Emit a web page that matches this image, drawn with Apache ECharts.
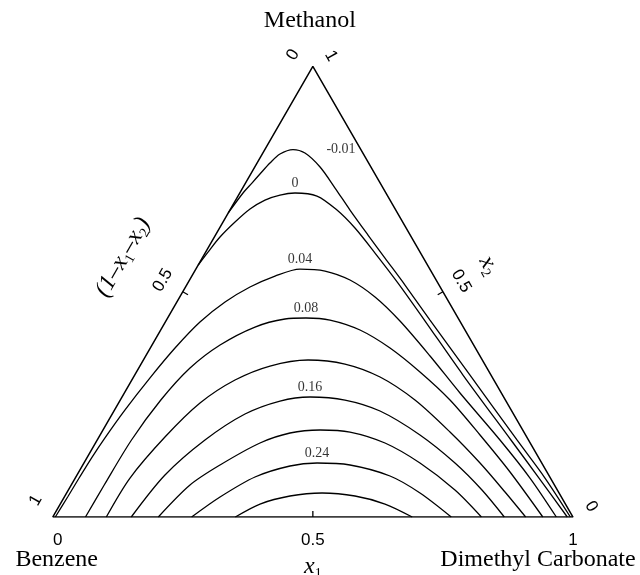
<!DOCTYPE html>
<html>
<head>
<meta charset="utf-8">
<script src="https://cdn.jsdelivr.net/npm/echarts@6/dist/echarts.min.js"></script>
<style>
  html, body { margin: 0; padding: 0; background: #fff; }
  #chart { width: 640px; height: 575px; }
</style>
</head>
<body>
<div id="chart"></div>
<script>
// Ternary contour diagram: x1 = dimethyl carbonate, x2 = methanol, benzene = 1 - x1 - x2.
// Every contour path is a list of [x1, x2] mole-fraction pairs.

const cornerNames = ['Benzene', 'Dimethyl Carbonate', 'Methanol'];
const tickValues = [0, 0.5, 1];
const tickLabels = ['0', '0.5', '1'];
const contourLevels = [-0.01, 0, 0.04, 0.08, 0.12, 0.16, 0.20, 0.24, 0.28];
const labelledLevels = [-0.01, 0, 0.04, 0.08, 0.16, 0.24];

const levelNeg001 = [[0.000,0.6747],[0.0063,0.7190],[0.0124,0.7411],[0.0178,0.7611],[0.0248,0.7855],[0.0341,0.8055],[0.0541,0.8155],[0.0810,0.8077],[0.1255,0.7767],[0.1776,0.7301],[0.2308,0.6812],[0.2931,0.6258],[0.3513,0.5747],[0.4197,0.5148],[0.5066,0.4371],[0.6445,0.3151],[0.8069,0.1709],[0.9029,0.0865],[0.995,0]];
const level000 = [[0.000,0.5592],[0.0045,0.5880],[0.0109,0.6213],[0.0231,0.6546],[0.0375,0.6835],[0.0563,0.7034],[0.0796,0.7145],[0.1062,0.7190],[0.1518,0.7123],[0.2058,0.6812],[0.2603,0.6413],[0.3266,0.5858],[0.4041,0.5192],[0.4909,0.4416],[0.6310,0.3151],[0.7953,0.1709],[0.8914,0.0865],[0.989,0]];
const level004 = [[0.005,0],[0.0065,0.0444],[0.0075,0.0888],[0.0092,0.1331],[0.0125,0.1753],[0.0200,0.2374],[0.0325,0.3084],[0.0476,0.3750],[0.0667,0.4327],[0.0927,0.4771],[0.1240,0.5104],[0.1599,0.5348],[0.2001,0.5503],[0.2505,0.5459],[0.3084,0.5259],[0.3754,0.4882],[0.4500,0.4349],[0.5466,0.3573],[0.6452,0.2752],[0.7742,0.1709],[0.8741,0.0865],[0.968,0]];
const level008 = [[0.063,0],[0.0635,0.0710],[0.0660,0.1709],[0.0780,0.2596],[0.0986,0.3306],[0.1308,0.3817],[0.1780,0.4216],[0.2268,0.4394],[0.2660,0.4416],[0.3144,0.4371],[0.3831,0.4150],[0.4608,0.3750],[0.5450,0.3218],[0.6338,0.2596],[0.7303,0.1820],[0.8290,0.0999],[0.942,0]];
const level012 = [[0.103,0],[0.1053,0.0865],[0.1270,0.1775],[0.1566,0.2530],[0.1984,0.3040],[0.2501,0.3351],[0.3165,0.3484],[0.3920,0.3395],[0.4738,0.3107],[0.5665,0.2596],[0.6693,0.1886],[0.7614,0.1198],[0.8416,0.0555],[0.909,0]];
const level016 = [[0.151,0],[0.1692,0.0932],[0.2072,0.1709],[0.2553,0.2286],[0.3082,0.2574],[0.3614,0.2663],[0.4320,0.2596],[0.5115,0.2352],[0.6149,0.1820],[0.7133,0.1198],[0.7951,0.0599],[0.868,0]];
const level020 = [[0.203,0],[0.2284,0.0710],[0.2639,0.1154],[0.3163,0.1642],[0.3629,0.1864],[0.4173,0.1931],[0.4771,0.1886],[0.5566,0.1642],[0.6460,0.1198],[0.7432,0.0599],[0.824,0]];
const level024 = [[0.267,0],[0.2994,0.0444],[0.3444,0.0888],[0.3995,0.1132],[0.4481,0.1198],[0.5137,0.1154],[0.6028,0.0910],[0.6793,0.0533],[0.766,0]];
const level028 = [[0.351,0],[0.3840,0.0288],[0.4328,0.0466],[0.4910,0.0533],[0.5577,0.0466],[0.6243,0.0288],[0.691,0]];

const contourPaths = [levelNeg001, level000, level004, level008, level012, level016, level020, level024, level028];

// corners of the composition triangle as [x1, x2]
const triangleCorners = [[0, 0], [1, 0], [0, 1], [0, 0]];

const H = Math.sqrt(3) / 2;
// composition -> cartesian position inside an equilateral triangle of side 1
const toXY = p => [p[0] + p[1] / 2, p[1] * H];

const INK = '#000';
const SERIF = '"Liberation Serif", "Times New Roman", serif';
const SANS = '"Liberation Sans", Arial, sans-serif';

const chart = echarts.init(document.getElementById('chart'), null, { renderer: 'canvas' });

const series = [];
series.push({
  type: 'line', data: triangleCorners.map(toXY), symbol: 'none', silent: true,
  lineStyle: { color: INK, width: 1.5 }, z: 3
});
contourPaths.forEach((pts, i) => {
  series.push({
    type: 'line', name: String(contourLevels[i]), data: pts.map(toXY),
    symbol: 'none', smooth: 0.3, silent: true,
    lineStyle: { color: INK, width: 1.3 }, z: 2
  });
});
// level labels sit above the crest of their contour
series.push({
  type: 'scatter', symbolSize: 1, silent: true, z: 4,
  itemStyle: { color: 'rgba(0,0,0,0)' },
  data: labelledLevels.map(lv => {
    const pts = contourPaths[contourLevels.indexOf(lv)];
    const crest = pts.reduce((a, b) => (b[1] > a[1] ? b : a));
    return {
      value: toXY(crest), name: String(lv),
      label: { offset: lv < 0 ? [48, 0] : [0, -10] }
    };
  }),
  label: {
    show: true, position: 'inside', formatter: p => p.name,
    fontFamily: SERIF, fontSize: 14, color: INK
  }
});

chart.setOption({
  animation: false,
  backgroundColor: '#fff',
  grid: { left: 52.7, top: 66.4, width: 520.3, height: 450.6, containLabel: false },
  xAxis: { type: 'value', min: 0, max: 1, show: false },
  yAxis: { type: 'value', min: 0, max: H, show: false },
  series
});

// ---- ticks, tick labels, axis titles and corner names ----
const px = p => chart.convertToPixel({ gridIndex: 0 }, toXY(p));
const add = (a, v, k) => [a[0] + v[0] * k, a[1] + v[1] * k];
const nLeft = [-Math.sqrt(3) / 2, -0.5];   // outward normal, left edge
const nRight = [Math.sqrt(3) / 2, -0.5];   // outward normal, right edge
const uLeft = [0.5, -Math.sqrt(3) / 2];    // along the left edge, upward
const nBottom = [0, 1];
const graphics = [];

function tick(p, n) {
  const a = px(p);
  const b = add(a, n, -6);
  graphics.push({ type: 'line', shape: { x1: a[0], y1: a[1], x2: b[0], y2: b[1] }, style: { stroke: INK, lineWidth: 1.3 }, z: 10 });
}
tick([0.5, 0], nBottom);
tick([0, 0.5], nLeft);
tick([0.5, 0.5], nRight);

function text(str, pos, rot, style) {
  graphics.push({
    type: 'text', x: pos[0], y: pos[1], rotation: rot || 0, z: 10,
    style: Object.assign({ text: str, fill: INK, align: 'center', verticalAlign: 'middle' }, style)
  });
}
const tickFont = { font: '17px ' + SANS };
tickValues.forEach((t, i) => {
  // bottom axis: x1
  text(tickLabels[i], add(add(px([t, 0]), nBottom, 23), [t === 0 ? 5 : 0, 0], 1), 0, tickFont);
  // left axis: 1 - x1 - x2
  text(tickLabels[i], add(add(px([0, 1 - t]), nLeft, 23), uLeft, t === 1 ? 6 : 0), Math.PI / 3, tickFont);
  // right axis: x2
  text(tickLabels[i], add(px([1 - t, t]), nRight, 21), -Math.PI / 3, tickFont);
});

const rich = {
  i: { fontFamily: SERIF, fontStyle: 'italic', fontSize: 24, lineHeight: 28, verticalAlign: 'middle' },
  s: { fontFamily: SERIF, fontSize: 14, lineHeight: 12, verticalAlign: 'bottom' }
};
text('{i|x}{s|1}', add(px([0.5, 0]), nBottom, 50), 0, { rich });
text('{i|(1–x}{s|1}{i|–x}{s|2}{i|)}', add(px([0, 0.5]), nLeft, 69), Math.PI / 3, { rich });
text('{i|x}{s|2}', add(px([0.5, 0.5]), nRight, 53), -Math.PI / 3, { rich });

const nameFont = { font: '24px ' + SERIF };
text(cornerNames[0], add(px([0, 0]), [4, 43], 1), 0, nameFont);
text(cornerNames[1], add(px([1, 0]), [-35, 43], 1), 0, nameFont);
text(cornerNames[2], add(px([0, 1]), [-3, -46], 1), 0, nameFont);

chart.setOption({ graphic: { elements: graphics } });
</script>
</body>
</html>
